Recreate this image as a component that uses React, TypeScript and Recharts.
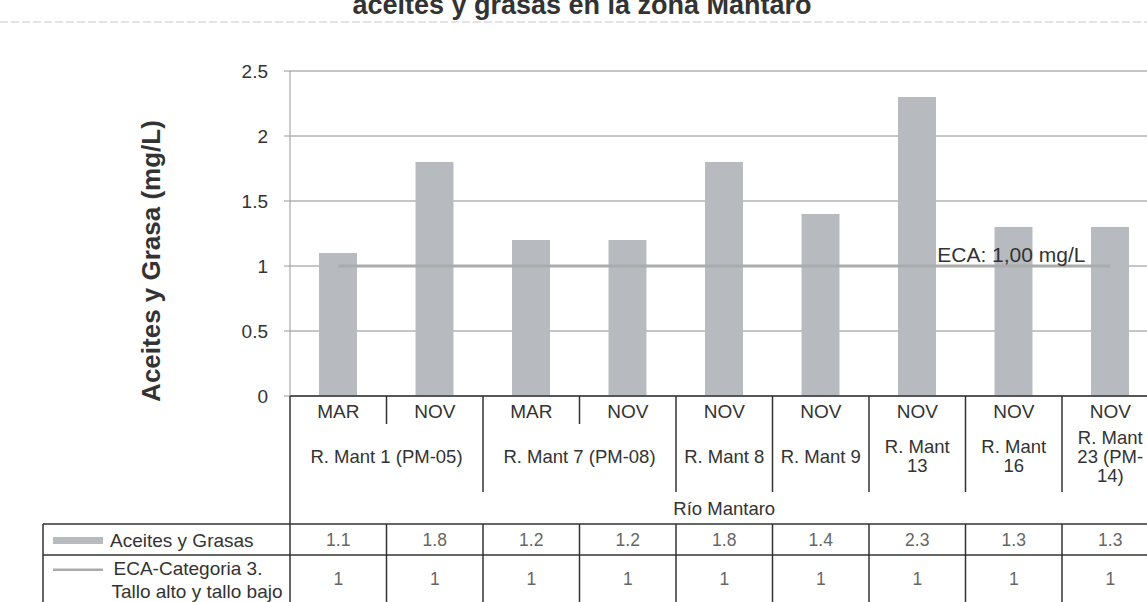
import { Bar, ComposedChart, Line, XAxis, YAxis, CartesianGrid } from "recharts";

const months = ["MAR", "NOV", "MAR", "NOV", "NOV", "NOV", "NOV", "NOV", "NOV"];
const aceites = [1.1, 1.8, 1.2, 1.2, 1.8, 1.4, 2.3, 1.3, 1.3];
const eca = [1, 1, 1, 1, 1, 1, 1, 1, 1];

// station groups on the second axis level
const stationLabels = [
  ["R. Mant 1 (PM-05)"],
  ["R. Mant 7 (PM-08)"],
  ["R. Mant 8"],
  ["R. Mant 9"],
  ["R. Mant", "13"],
  ["R. Mant", "16"],
  ["R. Mant", "23 (PM-", "14)"],
];
const stationSpans = [2, 2, 1, 1, 1, 1, 1];
const riverLabel = "Río Mantaro";
const yTicks = [0, 0.5, 1, 1.5, 2, 2.5];

const data = months.map((m, i) => ({ id: i, month: m, aceites: aceites[i], eca: eca[i] }));

// which category starts which station group
const groupStart: Record<number, number> = {};
let acc = 0;
stationSpans.forEach((s, g) => {
  groupStart[acc] = g;
  acc += s;
});

const CHART_W = 1200;
const CHART_H = 602;
const PLOT_LEFT = 290;
const PLOT_RIGHT = 1158.5;
const PLOT_TOP = 71;
const AXIS_Y = 396;
const BAND = (PLOT_RIGHT - PLOT_LEFT) / months.length;

const BAR_COLOR = "#b7bbbf";
const LINE_COLOR = "#a9acab";
const INK = "#333";
const FONT = "'Liberation Sans', Arial, sans-serif";

const XTick = (props: any) => {
  const { x } = props;
  const i: number = props.index ?? props.payload?.index ?? 0;
  const left = x - BAND / 2;
  const g = groupStart[i];
  const isStart = g !== undefined;
  const els: any[] = [];

  if (i > 0) {
    els.push(<line key="d" x1={left} x2={left} y1={AXIS_Y} y2={isStart ? 492 : 424} stroke={INK} strokeWidth={1.5} />);
    els.push(<line key="t" x1={left} x2={left} y1={524} y2={CHART_H} stroke={INK} strokeWidth={1.5} />);
  }
  if (i === months.length - 1) {
    els.push(<line key="r" x1={x + BAND / 2} x2={x + BAND / 2} y1={AXIS_Y} y2={CHART_H} stroke={INK} strokeWidth={1.5} />);
  }
  els.push(
    <text key="m" x={x} y={411} textAnchor="middle" dominantBaseline="central" fontSize={19} fill={INK}>
      {months[i]}
    </text>
  );
  if (isStart) {
    const lines = stationLabels[g];
    const gx = x + ((stationSpans[g] - 1) * BAND) / 2;
    const lh = 19;
    const y0 = 456 - ((lines.length - 1) * lh) / 2;
    lines.forEach((ln, k) => {
      els.push(
        <text key={"s" + k} x={gx} y={y0 + k * lh} textAnchor="middle" dominantBaseline="central" fontSize={18.5} fill={INK}>
          {ln}
        </text>
      );
    });
  }
  if (i === 0) {
    els.push(
      <text key="rv" x={x + ((months.length - 1) * BAND) / 2} y={508} textAnchor="middle" dominantBaseline="central" fontSize={18.5} fill={INK}>
        {riverLabel}
      </text>
    );
  }
  els.push(
    <text key="v1" x={x} y={540} textAnchor="middle" dominantBaseline="central" fontSize={17.5} fill="#666">
      {aceites[i].toFixed(1)}
    </text>
  );
  els.push(
    <text key="v2" x={x} y={579} textAnchor="middle" dominantBaseline="central" fontSize={17.5} fill="#666">
      {eca[i]}
    </text>
  );
  return <g>{els}</g>;
};

const EcaLabel = (props: any) => {
  const { x, y, index } = props;
  if (index !== 6) return null;
  return (
    <text x={x + 20} y={y - 12} dominantBaseline="central" fontSize={21} fill={INK}>
      ECA: 1,00 mg/L
    </text>
  );
};

export default function App() {
  return (
    <div
      style={{
        position: "fixed",
        left: 0,
        top: 0,
        width: 1147,
        height: 602,
        overflow: "hidden",
        background: "#fff",
        fontFamily: FONT,
      }}
    >
      <ComposedChart
        width={CHART_W}
        height={CHART_H}
        data={data}
        margin={{ top: PLOT_TOP, right: CHART_W - PLOT_RIGHT, left: PLOT_LEFT - 60, bottom: 0 }}
        style={{ fontFamily: FONT }}
      >
        <CartesianGrid vertical={false} stroke="#8c8c8c" strokeWidth={1} />
        <XAxis
          dataKey="id"
          type="category"
          interval={0}
          height={CHART_H - AXIS_Y}
          tickLine={false}
          axisLine={{ stroke: INK, strokeWidth: 1.5 }}
          tick={<XTick />}
        />
        <YAxis
          width={60}
          domain={[0, 2.5]}
          ticks={yTicks}
          allowDecimals
          axisLine={{ stroke: "#999" }}
          tickLine={{ stroke: "#999" }}
          tickSize={6}
          tickMargin={16}
          tick={{ fill: INK, fontSize: 19 }}
        />
        <Line dataKey="eca" stroke={LINE_COLOR} strokeWidth={3} dot={false} isAnimationActive={false} />
        <Bar dataKey="aceites" fill={BAR_COLOR} barSize={38} isAnimationActive={false} />
        <Line dataKey="eca" stroke="none" dot={false} label={<EcaLabel />} isAnimationActive={false} />
      </ComposedChart>

      <svg
        width={1147}
        height={602}
        style={{ position: "absolute", left: 0, top: 0, pointerEvents: "none", fontFamily: FONT }}
      >
        <line x1={0} x2={1147} y1={22} y2={22} stroke="#c8c8c8" strokeDasharray="8 3" />
        <text x={582} y={14} textAnchor="middle" fontSize={27} fontWeight="bold" fill={INK}>
          aceites y grasas en la zona Mantaro
        </text>
        <text transform="translate(160,261) rotate(-90)" textAnchor="middle" fontSize={26} fontWeight="bold" fill={INK}>
          Aceites y Grasa (mg/L)
        </text>

        {/* data table frame and legend column */}
        <line x1={PLOT_LEFT} x2={PLOT_LEFT} y1={AXIS_Y} y2={602} stroke={INK} strokeWidth={1.5} />
        <line x1={43} x2={1147} y1={524} y2={524} stroke={INK} strokeWidth={1.5} />
        <line x1={43} x2={1147} y1={555} y2={555} stroke={INK} strokeWidth={1.5} />
        <line x1={43} x2={43} y1={524} y2={602} stroke={INK} strokeWidth={1.5} />
        <rect x={53} y={537} width={50} height={7} fill={BAR_COLOR} />
        <rect x={53} y={568.5} width={50} height={2.5} fill={LINE_COLOR} />
        <text x={110} y={540} dominantBaseline="central" fontSize={19} fill={INK}>
          Aceites y Grasas
        </text>
        <text x={188} y={568} textAnchor="middle" dominantBaseline="central" fontSize={19} fill={INK}>
          ECA-Categoria 3.
        </text>
        <text x={197} y={591} textAnchor="middle" dominantBaseline="central" fontSize={19} fill={INK}>
          Tallo alto y tallo bajo
        </text>
      </svg>
    </div>
  );
}
